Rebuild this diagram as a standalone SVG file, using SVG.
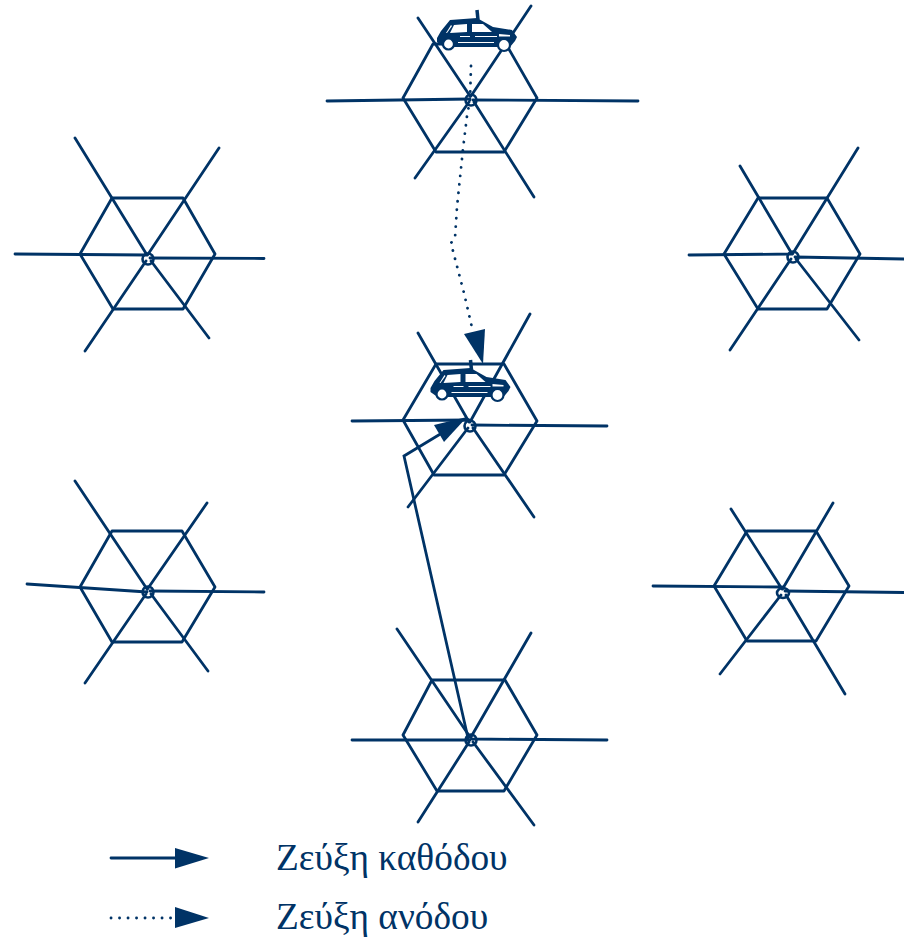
<svg xmlns="http://www.w3.org/2000/svg" width="904" height="939" viewBox="0 0 904 939">
<style>
.h{fill:none;stroke:#003366;stroke-width:2.8;stroke-linejoin:round}
.s{fill:none;stroke:#003366;stroke-width:2.8;stroke-linecap:round}
.c{fill:none;stroke:#003366;stroke-width:2.6}
.wh{fill:#fff;stroke:#003366;stroke-width:2.2}
.a{fill:#003366;stroke:none}
.d{fill:none;stroke:#003366;stroke-width:2.8;stroke-dasharray:0.1 8.4;stroke-linecap:round}
.t{font-family:"Liberation Serif","Noto Sans",serif;font-size:37.300px;fill:#003366}
.w{fill:#fff;stroke:none}
</style>
<defs>
<g id="car">
<path class="a" d="M450 20L477 18L493 27L512 30L517 37L515 41L510 47L444 47L437 42L437 38L441 31Z"/>
<path class="w" d="M454 25L467 24L467 32L450 33Z"/>
<path class="w" d="M472 24L483 24L492 32L472 32Z"/>
<path class="w" d="M451 25L446 33L447 33L452 26Z"/>
<path class="w" d="M499 34L510 35L510 36.500L499 36.500Z"/>
<path class="w" d="M460 36L470 36L470 37L460 37Z"/>
<path class="w" d="M475 36L497 36L497 37L475 37Z"/>
<path class="w" d="M458 42L494 42L494 43L458 43Z"/>
<path class="s" d="M477 10L478 20" style="stroke-width:3.500;stroke-linecap:butt"/>
<circle class="wh" cx="448.500" cy="44" r="5.500"/>
<circle class="wh" cx="504" cy="45" r="6"/>
</g>
</defs>
<g id="cell-top">
<polygon class="h" points="403,98 433,44 506,44 537,98 504,152 436,152"/>
<path class="s" d="M327 101L470 99M473 100L638 101M418 18L470 96M531 6L471 96M415 178L469 102M534 197L474 102"/>
<circle class="c" cx="471" cy="100" r="5.500"/>
</g>
<g id="cell-left-1">
<polygon class="h" points="80,254 112,198 183,198 215,254 183,309 113,309"/>
<path class="s" d="M15 254L147 255M150 258L264 258.500M75 138L147 255M219 148L147.500 255M85 351L146 261M209 338L151 261"/>
<circle class="c" cx="148" cy="259" r="5.500"/>
</g>
<g id="cell-right-1">
<polygon class="h" points="724,254 758,198 827,198 860,254 827,309 758,309"/>
<path class="s" d="M689 255L792 254M795 257L904 259M740 166L792 254M858 148L792.500 254M730 350L791 259M859 340L796 259"/>
<circle class="c" cx="793" cy="257" r="5.500"/>
</g>
<g id="cell-center">
<polygon class="h" points="403,420 436,364 504,364 537,421 504,475 434,475"/>
<path class="s" d="M352 421L469 420M472 425L607 426M418 333L469 422M530 314L470 422M408 507L468 428M534 517L473 428"/>
<circle class="c" cx="470" cy="426" r="5.500"/>
</g>
<g id="cell-left-2">
<polygon class="h" points="80,587 112,531 182,531 215,587 182,642 112,642"/>
<path class="s" d="M27 584L147 592M150 591L264 592M75 481L147 589M207 503L147.500 589M85 683L146 594M208 671L151 594"/>
<circle class="c" cx="148" cy="592" r="5.500"/>
</g>
<g id="cell-right-2">
<polygon class="h" points="714,586 747,531 816,531 849,586 816,641 747,641"/>
<path class="s" d="M653 586L782 587M785 591L904 592.500M731 509L782 589M833 503L782.500 589M720 674L781 595M845 694L786 595"/>
<ellipse class="c" cx="783" cy="593" rx="6" ry="5"/>
</g>
<g id="cell-bottom">
<polygon class="h" points="403,735 432,680 505,680 537,735 504,791 437,791"/>
<path class="s" d="M352 740L470 740M472 739L607 740M397 629L470 737M531 633L471 737M418 822L469 742M534 825L473 742"/>
<circle class="c" cx="471" cy="740" r="5.500"/>
</g>
<g id="cars">
<use href="#car"/>
<use href="#car" x="-6.500" y="350"/>
</g>
<g id="connectors">
<path class="s" d="M468 738L404 456L442 433"/>
<polygon class="a" points="434,425 444,442 467,417"/>
<path class="d" d="M471 66L470 100L467 116L463 149L457 207L455 238L451 243L453 251L464 293L473 332"/>
<polygon class="a" points="464,334 485,329 483,364"/>
</g>
<g id="legend">
<path class="s" d="M111 858L176 858"/>
<polygon class="a" points="175,848 209,858 175,868.500"/>
<path class="d" d="M111 918L172 918"/>
<polygon class="a" points="175,907 209,918 175,928"/>
<text class="t" x="276" y="870">Ζεύξη καθόδου</text>
<text class="t" x="276" y="929">Ζεύξη ανόδου</text>
</g>
</svg>
